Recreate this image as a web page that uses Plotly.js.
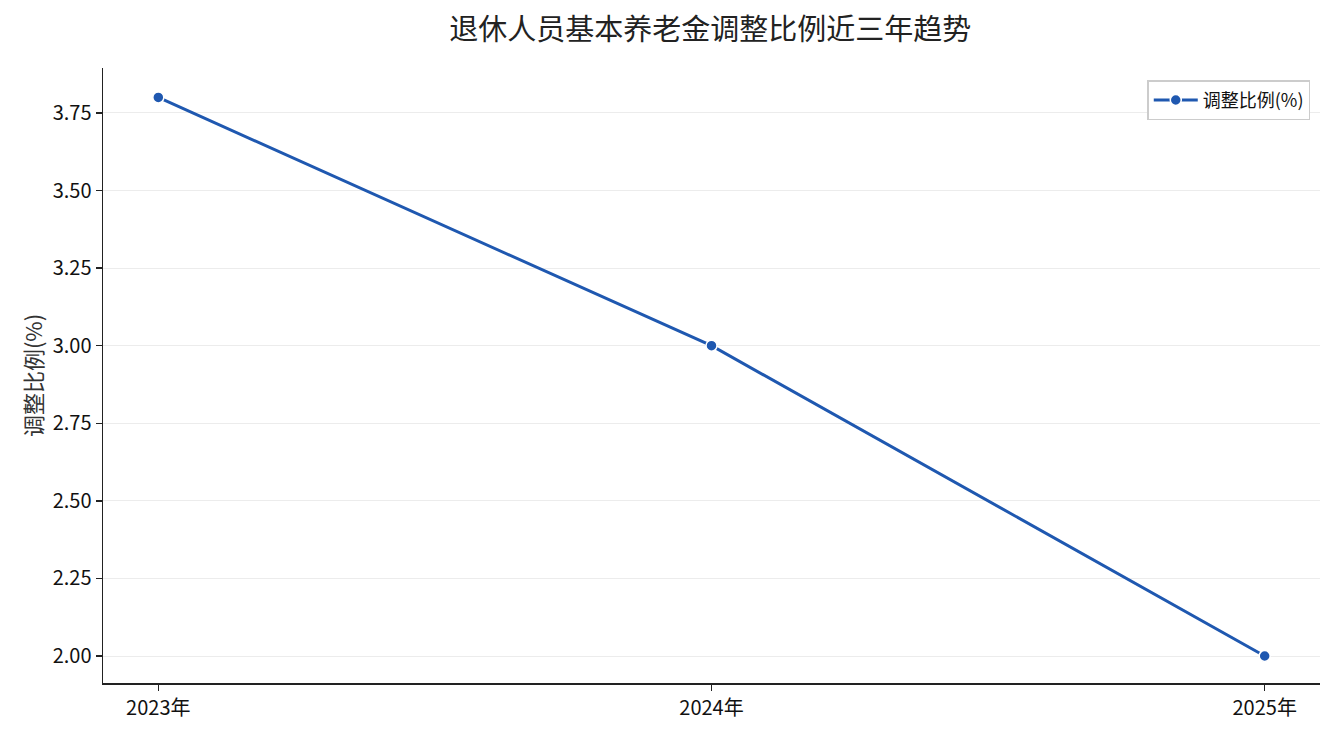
<!DOCTYPE html>
<html>
<head>
<meta charset="utf-8">
<script src="https://cdn.plot.ly/plotly-3.0.1.min.js"></script>
<style>
  html, body { margin: 0; padding: 0; background: #fff; }
  #graph { width: 1335px; height: 735px; }
</style>
</head>
<body>
<div id="graph"></div>
<script>
// chart data
let years = ["2023年", "2024年", "2025年"];
let ratios = [3.8, 3.0, 2.0];
let seriesName = "调整比例(%)";
let yTicks = [2.0, 2.25, 2.5, 2.75, 3.0, 3.25, 3.5, 3.75];

let lineColor = "#1f58b0";
let fontFamily = "'Noto Sans CJK SC', 'Noto Sans', sans-serif";

let data = [{
    x: years,
    y: ratios,
    name: seriesName,
    type: "scatter",
    mode: "lines+markers",
    line: {color: lineColor, width: 3},
    marker: {color: lineColor, size: 11, line: {color: "#ffffff", width: 1.5}}
}];

let layout = {
    width: 1335,
    height: 735,
    margin: {l: 103, r: 15, t: 68, b: 52, pad: 0},
    paper_bgcolor: "#ffffff",
    plot_bgcolor: "#ffffff",
    font: {family: fontFamily, color: "#111", size: 20},
    title: {
        text: "退休人员基本养老金调整比例近三年趋势",
        font: {family: fontFamily, size: 29, color: "#222"},
        x: 0.532, xanchor: "center", y: 0.96, yanchor: "middle"
    },
    showlegend: true,
    legend: {
        x: 0.992, xanchor: "right", y: 0.98, yanchor: "top",
        bordercolor: "#cccccc", borderwidth: 1.5, bgcolor: "#ffffff",
        itemwidth: 44,
        font: {family: fontFamily, size: 18, color: "#111"}
    },
    xaxis: {
        type: "category",
        range: [-0.1, 2.1],
        showgrid: false,
        zeroline: false,
        showline: true, linecolor: "#222", linewidth: 1.5,
        ticks: "outside", ticklen: 6, tickwidth: 1.5, tickcolor: "#222",
        tickfont: {family: fontFamily, size: 20, color: "#111"}
    },
    yaxis: {
        range: [1.913, 3.895],
        tickvals: yTicks,
        ticktext: yTicks.map(v => v.toFixed(2)),
        showgrid: true, gridcolor: "#ececec", gridwidth: 1,
        zeroline: false,
        showline: true, linecolor: "#222", linewidth: 1.5,
        ticks: "outside", ticklen: 6, tickwidth: 1.5, tickcolor: "#222",
        tickfont: {family: fontFamily, size: 20, color: "#111"},
        title: {text: "调整比例(%)", font: {family: fontFamily, size: 22, color: "#333"}, standoff: 4}
    }
};

Plotly.newPlot("graph", data, layout, {displayModeBar: false, staticPlot: true});
</script>
</body>
</html>
